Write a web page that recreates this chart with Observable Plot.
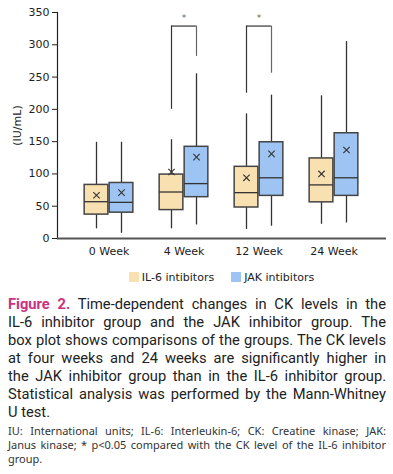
<!DOCTYPE html>
<html><head><meta charset="utf-8">
<script src="https://cdn.jsdelivr.net/npm/d3@7"></script>
<script src="https://cdn.jsdelivr.net/npm/@observablehq/plot@0.6"></script>
<style>
body{margin:0;background:#fff;width:393px;overflow:hidden}
#chart svg{display:block}
.legend{display:flex;justify-content:center;align-items:center;gap:17px;font:11px "DejaVu Sans",sans-serif;color:#222;margin:9px 7px 0 57px;height:12px}
.legend span{display:flex;align-items:center}
.legend i{display:inline-block;width:10px;height:10px;margin-right:3px}
.caption{margin:12px 7px 0 8px;font:14.7px/18px Roboto,sans-serif;color:#222}
.caption b{color:#c8327e}
.j{text-align:justify;text-align-last:justify}
.note{margin:3px 7px 0 8px;font:11px/14px "Noto Sans",sans-serif;color:#333}
</style></head>
<body>
<div id="chart"></div>
<div class="legend" id="legend"></div>
<div class="caption">
<div class="j"><b>Figure 2.</b> Time-dependent changes in CK levels in the</div>
<div class="j">IL-6 inhibitor group and the JAK inhibitor group. The</div>
<div class="j">box plot shows comparisons of the groups. The CK levels</div>
<div class="j">at four weeks and 24 weeks are significantly higher in</div>
<div class="j">the JAK inhibitor group than in the IL-6 inhibitor group.</div>
<div class="j">Statistical analysis was performed by the Mann-Whitney</div>
<div>U test.</div>
</div>
<div class="note">
<div class="j">IU: International units; IL-6: Interleukin-6; CK: Creatine kinase; JAK:</div>
<div class="j">Janus kinase; * p&lt;0.05 compared with the CK level of the IL-6 inhibitor</div>
<div>group.</div>
</div>
<script>
const weeks = ["0 Week", "4 Week", "12 Week", "24 Week"];
const groups = ["IL-6 intibitors", "JAK intibitors"];
const colors = ["#f9e0b0", "#9ec4f4"];
// IL-6 inhibitor group
const il6Min = [15, 15, 14, 22];
const il6Q1 = [37, 44, 48, 56];
const il6Median = [57, 72, 71, 83];
const il6Q3 = [83, 99, 111, 124];
const il6Max = [149, 153, 193, 221];
const il6Mean = [67, 103, 94, 100];
// JAK inhibitor group
const jakMin = [8, 21, 19, 24];
const jakQ1 = [40, 64, 66, 66];
const jakMedian = [56, 85, 94, 94];
const jakQ3 = [86, 142, 149, 163];
const jakMax = [149, 255, 222, 305];
const jakMean = [71, 126, 131, 137];
// significance brackets
const sigWeeks = ["4 Week", "12 Week"];
const sigLeftFrom = [200, 225];
const sigRightTo = [282, 256];
const sigTop = [329, 329];
const sigStar = [341, 341];
const yTicks = [0, 50, 100, 150, 200, 250, 300, 350];

const rows = weeks.flatMap((w, i) => [
  {week: w, group: groups[0], min: il6Min[i], q1: il6Q1[i], median: il6Median[i], q3: il6Q3[i], max: il6Max[i], mean: il6Mean[i]},
  {week: w, group: groups[1], min: jakMin[i], q1: jakQ1[i], median: jakMedian[i], q3: jakQ3[i], max: jakMax[i], mean: jakMean[i]}
]);
const sig = sigWeeks.map((w, i) => ({week: w, left: sigLeftFrom[i], right: sigRightTo[i], top: sigTop[i], star: sigStar[i]}));

const off = 12.5, half = 12, bw = 75.3;
function boxMarks(g, sign) {
  const data = rows.filter(d => d.group === g);
  const inL = sign < 0 ? bw/2 - off - half : bw/2 + off - half;
  const inR = sign < 0 ? bw/2 + off - half : bw/2 - off - half;
  return [
    Plot.ruleX(data, {x: "week", y1: "min", y2: "q1", dx: sign*off, stroke: "#333", strokeWidth: 1.3}),
    Plot.ruleX(data, {x: "week", y1: "q3", y2: "max", dx: sign*off, stroke: "#333", strokeWidth: 1.3}),
    Plot.barY(data, {x: "week", y1: "q1", y2: "q3", fill: "group", stroke: "#444", strokeWidth: 1.5, insetLeft: inL, insetRight: inR}),
    Plot.tickY(data, {x: "week", y: "median", stroke: "#333", strokeWidth: 1.3, insetLeft: inL, insetRight: inR}),
    Plot.dot(data, {x: "week", y: "mean", dx: sign*off, symbol: "times", r: 3, stroke: "#333", strokeWidth: 1.1})
  ];
}

const chart = Plot.plot({
  width: 393,
  height: 262,
  marginLeft: 57,
  marginRight: 7,
  marginTop: 12,
  marginBottom: 24,
  style: {fontFamily: "'DejaVu Sans', sans-serif", fontSize: "11px", color: "#222"},
  x: {type: "band", domain: weeks, padding: 0, insetLeft: 13, insetRight: 14, label: null, tickSize: 0, tickPadding: 9},
  y: {domain: [0, 350], ticks: yTicks, tickSize: 5, tickPadding: 3, label: "(IU/mL)", labelAnchor: "center", labelArrow: "none", labelOffset: 44},
  color: {domain: groups, range: colors},
  marks: [
    Plot.frame({anchor: "left", stroke: "#222", strokeWidth: 1.2}),
    ...boxMarks(groups[0], -1),
    ...boxMarks(groups[1], 1),
    Plot.ruleX(sig, {x: "week", y1: "left", y2: "top", dx: -off, stroke: "#333", strokeWidth: 1.2}),
    Plot.ruleX(sig, {x: "week", y1: "right", y2: "top", dx: off, stroke: "#666", strokeWidth: 1.2}),
    Plot.tickY(sig, {x: "week", y: "top", stroke: "#333", strokeWidth: 1.2, insetLeft: bw/2 - off, insetRight: bw/2 - off}),
    Plot.text(sig, {x: "week", y: "star", text: () => "*", fill: "#666", fontSize: 9}),
    Plot.ruleY([0], {stroke: "#555", strokeWidth: 2})
  ]
});
document.getElementById("chart").append(chart);
const lg = document.getElementById("legend");
groups.forEach((g, i) => {
  const s = document.createElement("span");
  s.innerHTML = `<i style="background:${colors[i]}"></i>${g}`;
  lg.append(s);
});
</script>
</body></html>
